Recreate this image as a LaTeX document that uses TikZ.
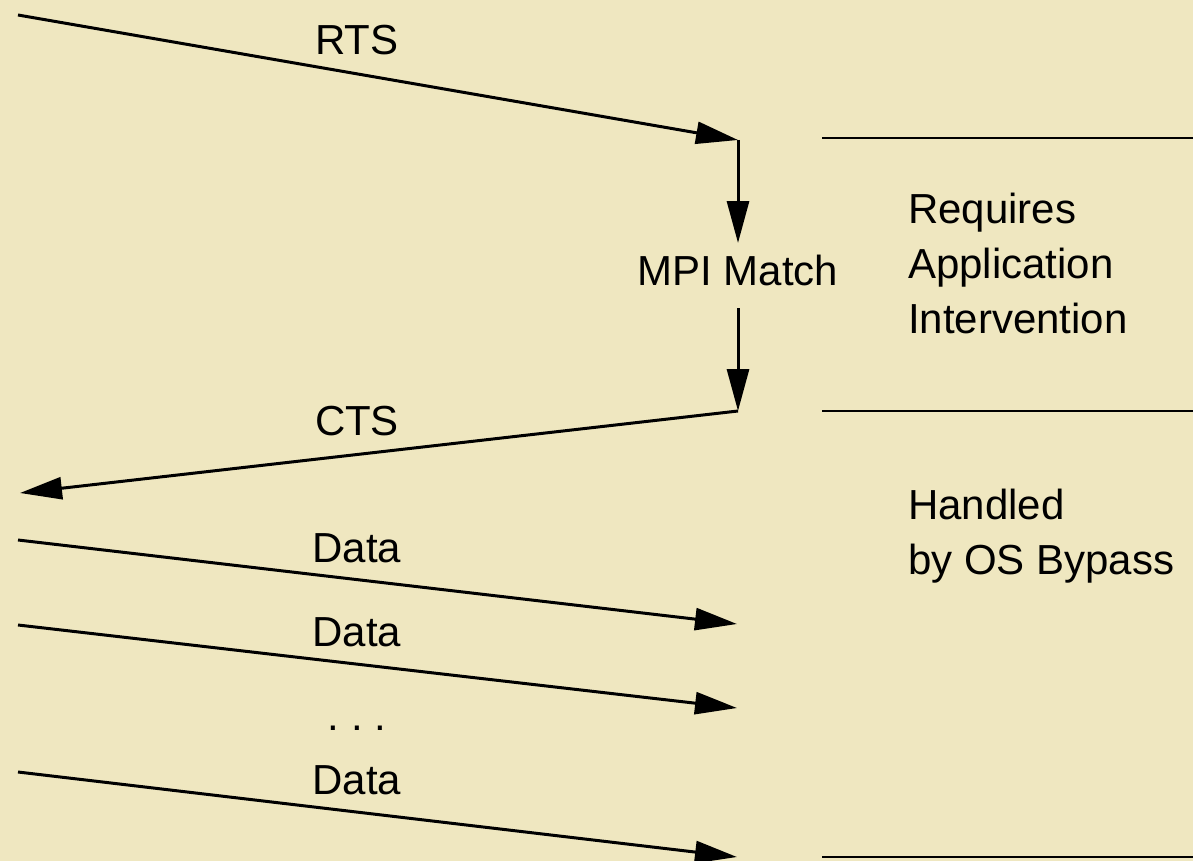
\documentclass[tikz,border=0pt]{standalone}
\usepackage{fontspec}
\setmainfont{Liberation Sans}
\usetikzlibrary{arrows.meta}
\definecolor{paper}{RGB}{239,231,192}
\begin{document}
\begin{tikzpicture}[x=1pt,y=-1pt,
  msg/.style={line width=3pt,-{Triangle[length=42pt,width=22pt]}},
  rule/.style={line width=2pt},
  lbl/.style={inner sep=0pt,anchor=base,font=\fontsize{42}{55}\selectfont},
  side/.style={inner sep=0pt,anchor=base west,font=\fontsize{42}{55}\selectfont}]
  % page
  \fill[paper] (0,0) rectangle (1193,861);
  \useasboundingbox (0,0) rectangle (1193,861);

  % message end points
  \coordinate (rtsS) at (18,15);
  \coordinate (rtsE) at (738,140);
  \coordinate (mA)   at (738,243);
  \coordinate (mB)   at (738,308);
  \coordinate (ctsS) at (738,411);
  \coordinate (ctsE) at (20,493);
  \coordinate (d1S)  at (18,540);
  \coordinate (d1E)  at (737,624);
  \coordinate (d2S)  at (18,625);
  \coordinate (d2E)  at (737,708);
  \coordinate (d3S)  at (18,772);
  \coordinate (d3E)  at (737,857);

  % phase boundaries
  \coordinate (b1L) at (822,138);  \coordinate (b1R) at (1193,138);
  \coordinate (b2L) at (822,411);  \coordinate (b2R) at (1193,411);
  \coordinate (b3L) at (822,857);  \coordinate (b3R) at (1193,857);

  % labels
  \node[lbl] (rts)   at (357,55)  {RTS};
  \node[lbl] (match) at (738,285) {MPI Match};
  \node[lbl] (cts)   at (357,435) {CTS};
  \node[lbl] (data1) at (357,562) {Data};
  \node[lbl] (data2) at (357,646) {Data};
  \node[lbl] (dots)  at (357,730) {.\ .\ .};
  \node[lbl] (data3) at (357,794) {Data};

  \node[side] (req1) at (908,223) {Requires};
  \node[side] (req2) at (908,278) {Application};
  \node[side] (req3) at (908,333) {Intervention};
  \node[side] (hnd1) at (908,519) {Handled};
  \node[side] (hnd2) at (908,574) {by OS Bypass};

  % messages
  \draw[msg] (rtsS) -- (rtsE);
  \draw[msg] (rtsE) -- (mA);
  \draw[msg] (mB) -- (ctsS);
  \draw[msg] (ctsS) -- (ctsE);
  \draw[msg] (d1S) -- (d1E);
  \draw[msg] (d2S) -- (d2E);
  \draw[msg] (d3S) -- (d3E);

  % boundaries
  \draw[rule] (b1L) -- (b1R);
  \draw[rule] (b2L) -- (b2R);
  \draw[rule] (b3L) -- (b3R);
\end{tikzpicture}
\end{document}
